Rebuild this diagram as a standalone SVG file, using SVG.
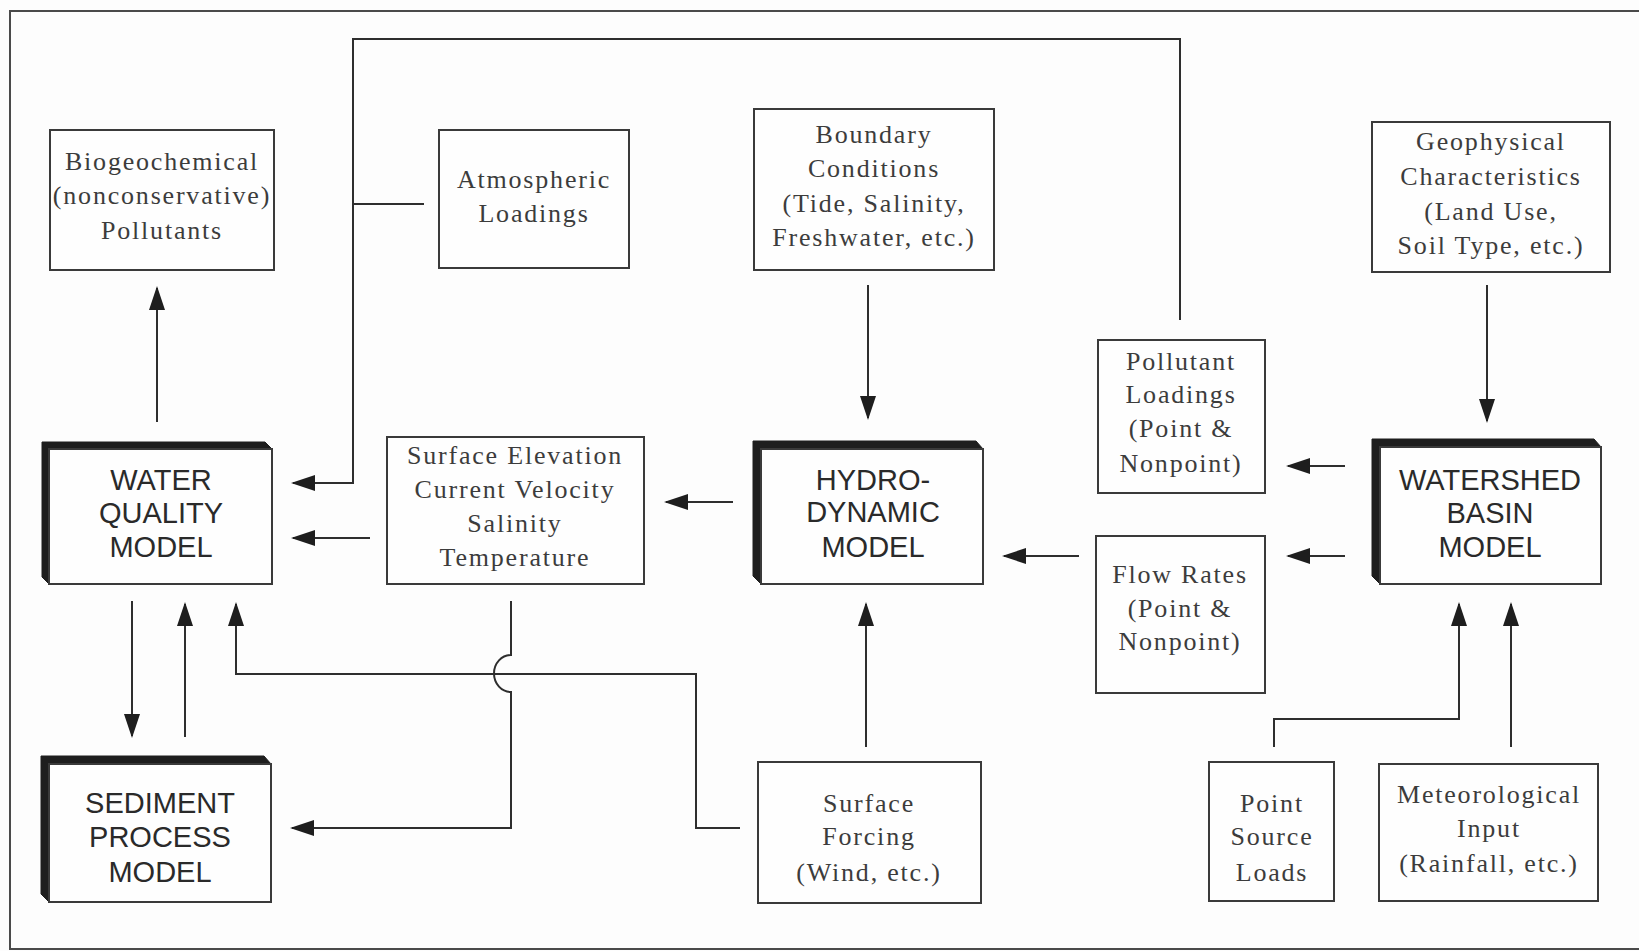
<svg xmlns="http://www.w3.org/2000/svg" width="1639" height="951" viewBox="0 0 1639 951">
  <style>
    .bg { fill: #fdfdfd; }
    .frame { fill: none; stroke: #4a4a4a; stroke-width: 2; }
    .box { fill: #fefefe; stroke: #3a3a3a; stroke-width: 2; }
    .shade { fill: #1e1e1e; stroke: #1e1e1e; stroke-width: 1; stroke-linejoin: round; }
    .wire { fill: none; stroke: #2e2e2e; stroke-width: 2; }
    .arrow { fill: none; stroke: #2e2e2e; stroke-width: 2; marker-end: url(#head); }
    .serif { font-family: "Liberation Serif", "Times New Roman", serif; font-size: 26px; letter-spacing: 1.8px; fill: #3c3c3c; text-anchor: middle; }
    .sans { font-family: "Liberation Sans", Arial, sans-serif; font-size: 29px; fill: #2a2a2a; text-anchor: middle; }
  </style>
  <defs>
    <marker id="head" viewBox="0 0 24 16" refX="22" refY="8" markerWidth="24" markerHeight="16" markerUnits="userSpaceOnUse" orient="auto">
      <path d="M0,0 L24,8 L0,16 Z" fill="#1e1e1e"/>
    </marker>
  </defs>

  <rect class="bg" x="0" y="0" width="1639" height="951"/>
  <!-- page frame (open on the right) -->
  <path class="frame" d="M1639,11 H10 V949 H1639"/>

  <!-- plain input / output boxes -->
  <g id="biogeochemical">
    <rect class="box" x="50" y="130" width="224" height="140"/>
    <text class="serif" x="162" y="170">Biogeochemical</text>
    <text class="serif" x="162" y="204">(nonconservative)</text>
    <text class="serif" x="162" y="239">Pollutants</text>
  </g>

  <g id="atmospheric">
    <rect class="box" x="439" y="130" width="190" height="138"/>
    <text class="serif" x="534" y="188">Atmospheric</text>
    <text class="serif" x="534" y="222">Loadings</text>
  </g>

  <g id="boundary">
    <rect class="box" x="754" y="109" width="240" height="161"/>
    <text class="serif" x="874" y="143">Boundary</text>
    <text class="serif" x="874" y="177">Conditions</text>
    <text class="serif" x="874" y="212">(Tide, Salinity,</text>
    <text class="serif" x="874" y="246">Freshwater, etc.)</text>
  </g>

  <g id="geophysical">
    <rect class="box" x="1372" y="122" width="238" height="150"/>
    <text class="serif" x="1491" y="150">Geophysical</text>
    <text class="serif" x="1491" y="185">Characteristics</text>
    <text class="serif" x="1491" y="220">(Land Use,</text>
    <text class="serif" x="1491" y="254">Soil Type, etc.)</text>
  </g>

  <g id="pollutant-loadings">
    <rect class="box" x="1098" y="340" width="167" height="153"/>
    <text class="serif" x="1181" y="370">Pollutant</text>
    <text class="serif" x="1181" y="403">Loadings</text>
    <text class="serif" x="1181" y="437">(Point &amp;</text>
    <text class="serif" x="1181" y="472">Nonpoint)</text>
  </g>

  <g id="flow-rates">
    <rect class="box" x="1096" y="536" width="169" height="157"/>
    <text class="serif" x="1180" y="583">Flow Rates</text>
    <text class="serif" x="1180" y="617">(Point &amp;</text>
    <text class="serif" x="1180" y="650">Nonpoint)</text>
  </g>

  <g id="hydro-output">
    <rect class="box" x="387" y="437" width="257" height="147"/>
    <text class="serif" x="515" y="464">Surface Elevation</text>
    <text class="serif" x="515" y="498">Current Velocity</text>
    <text class="serif" x="515" y="532">Salinity</text>
    <text class="serif" x="515" y="566">Temperature</text>
  </g>

  <g id="surface-forcing">
    <rect class="box" x="758" y="762" width="223" height="141"/>
    <text class="serif" x="869" y="812">Surface</text>
    <text class="serif" x="869" y="845">Forcing</text>
    <text class="serif" x="869" y="881">(Wind, etc.)</text>
  </g>

  <g id="point-source">
    <rect class="box" x="1209" y="762" width="125" height="139"/>
    <text class="serif" x="1272" y="812">Point</text>
    <text class="serif" x="1272" y="845">Source</text>
    <text class="serif" x="1272" y="881">Loads</text>
  </g>

  <g id="meteorological">
    <rect class="box" x="1379" y="764" width="219" height="137"/>
    <text class="serif" x="1489" y="803">Meteorological</text>
    <text class="serif" x="1489" y="837">Input</text>
    <text class="serif" x="1489" y="872">(Rainfall, etc.)</text>
  </g>

  <!-- model blocks, drawn with a dark bevel on the top and left -->
  <g id="water-quality-model">
    <path class="shade" d="M42,442 H265 L272,449 H49 V584 L42,577 Z"/>
    <rect class="box" x="49" y="449" width="223" height="135"/>
    <text class="sans" x="161" y="490">WATER</text>
    <text class="sans" x="161" y="523">QUALITY</text>
    <text class="sans" x="161" y="557">MODEL</text>
  </g>

  <g id="sediment-model">
    <path class="shade" d="M41,756 H264 L271,764 H49 V902 L41,894 Z"/>
    <rect class="box" x="49" y="764" width="222" height="138"/>
    <text class="sans" x="160" y="813">SEDIMENT</text>
    <text class="sans" x="160" y="847">PROCESS</text>
    <text class="sans" x="160" y="882">MODEL</text>
  </g>

  <g id="hydrodynamic-model">
    <path class="shade" d="M753,441 H976 L983,449 H761 V584 L753,576 Z"/>
    <rect class="box" x="761" y="449" width="222" height="135"/>
    <text class="sans" x="873" y="490">HYDRO-</text>
    <text class="sans" x="873" y="522">DYNAMIC</text>
    <text class="sans" x="873" y="557">MODEL</text>
  </g>

  <g id="watershed-model">
    <path class="shade" d="M1372,439 H1594 L1601,447 H1380 V584 L1372,576 Z"/>
    <rect class="box" x="1380" y="447" width="221" height="137"/>
    <text class="sans" x="1490" y="490">WATERSHED</text>
    <text class="sans" x="1490" y="523">BASIN</text>
    <text class="sans" x="1490" y="557">MODEL</text>
  </g>

  <!-- connectors -->
  <g id="connectors">
    <path class="arrow" d="M157,422 V288"/>
    <path class="arrow" d="M1180,320 V39 H353 V483 H293"/>
    <path class="wire" d="M353,204 H424"/>
    <path class="arrow" d="M370,538 H293"/>
    <path class="arrow" d="M733,502 H666"/>
    <path class="arrow" d="M868,285 V418"/>
    <path class="arrow" d="M1487,285 V421"/>
    <path class="arrow" d="M1345,466 H1288"/>
    <path class="arrow" d="M1345,556 H1288"/>
    <path class="arrow" d="M1079,556 H1004"/>
    <path class="arrow" d="M866,747 V604"/>
    <path class="arrow" d="M1274,747 V719 H1459 V604"/>
    <path class="arrow" d="M1511,747 V604"/>
    <path class="arrow" d="M132,601 V736"/>
    <path class="arrow" d="M185,737 V604"/>
    <path class="arrow" d="M740,828 H696 V674 H236 V604"/>
    <path class="arrow" d="M511,601 V655 A17,18.5 0 0 0 511,692 V828 H292"/>
  </g>
</svg>
